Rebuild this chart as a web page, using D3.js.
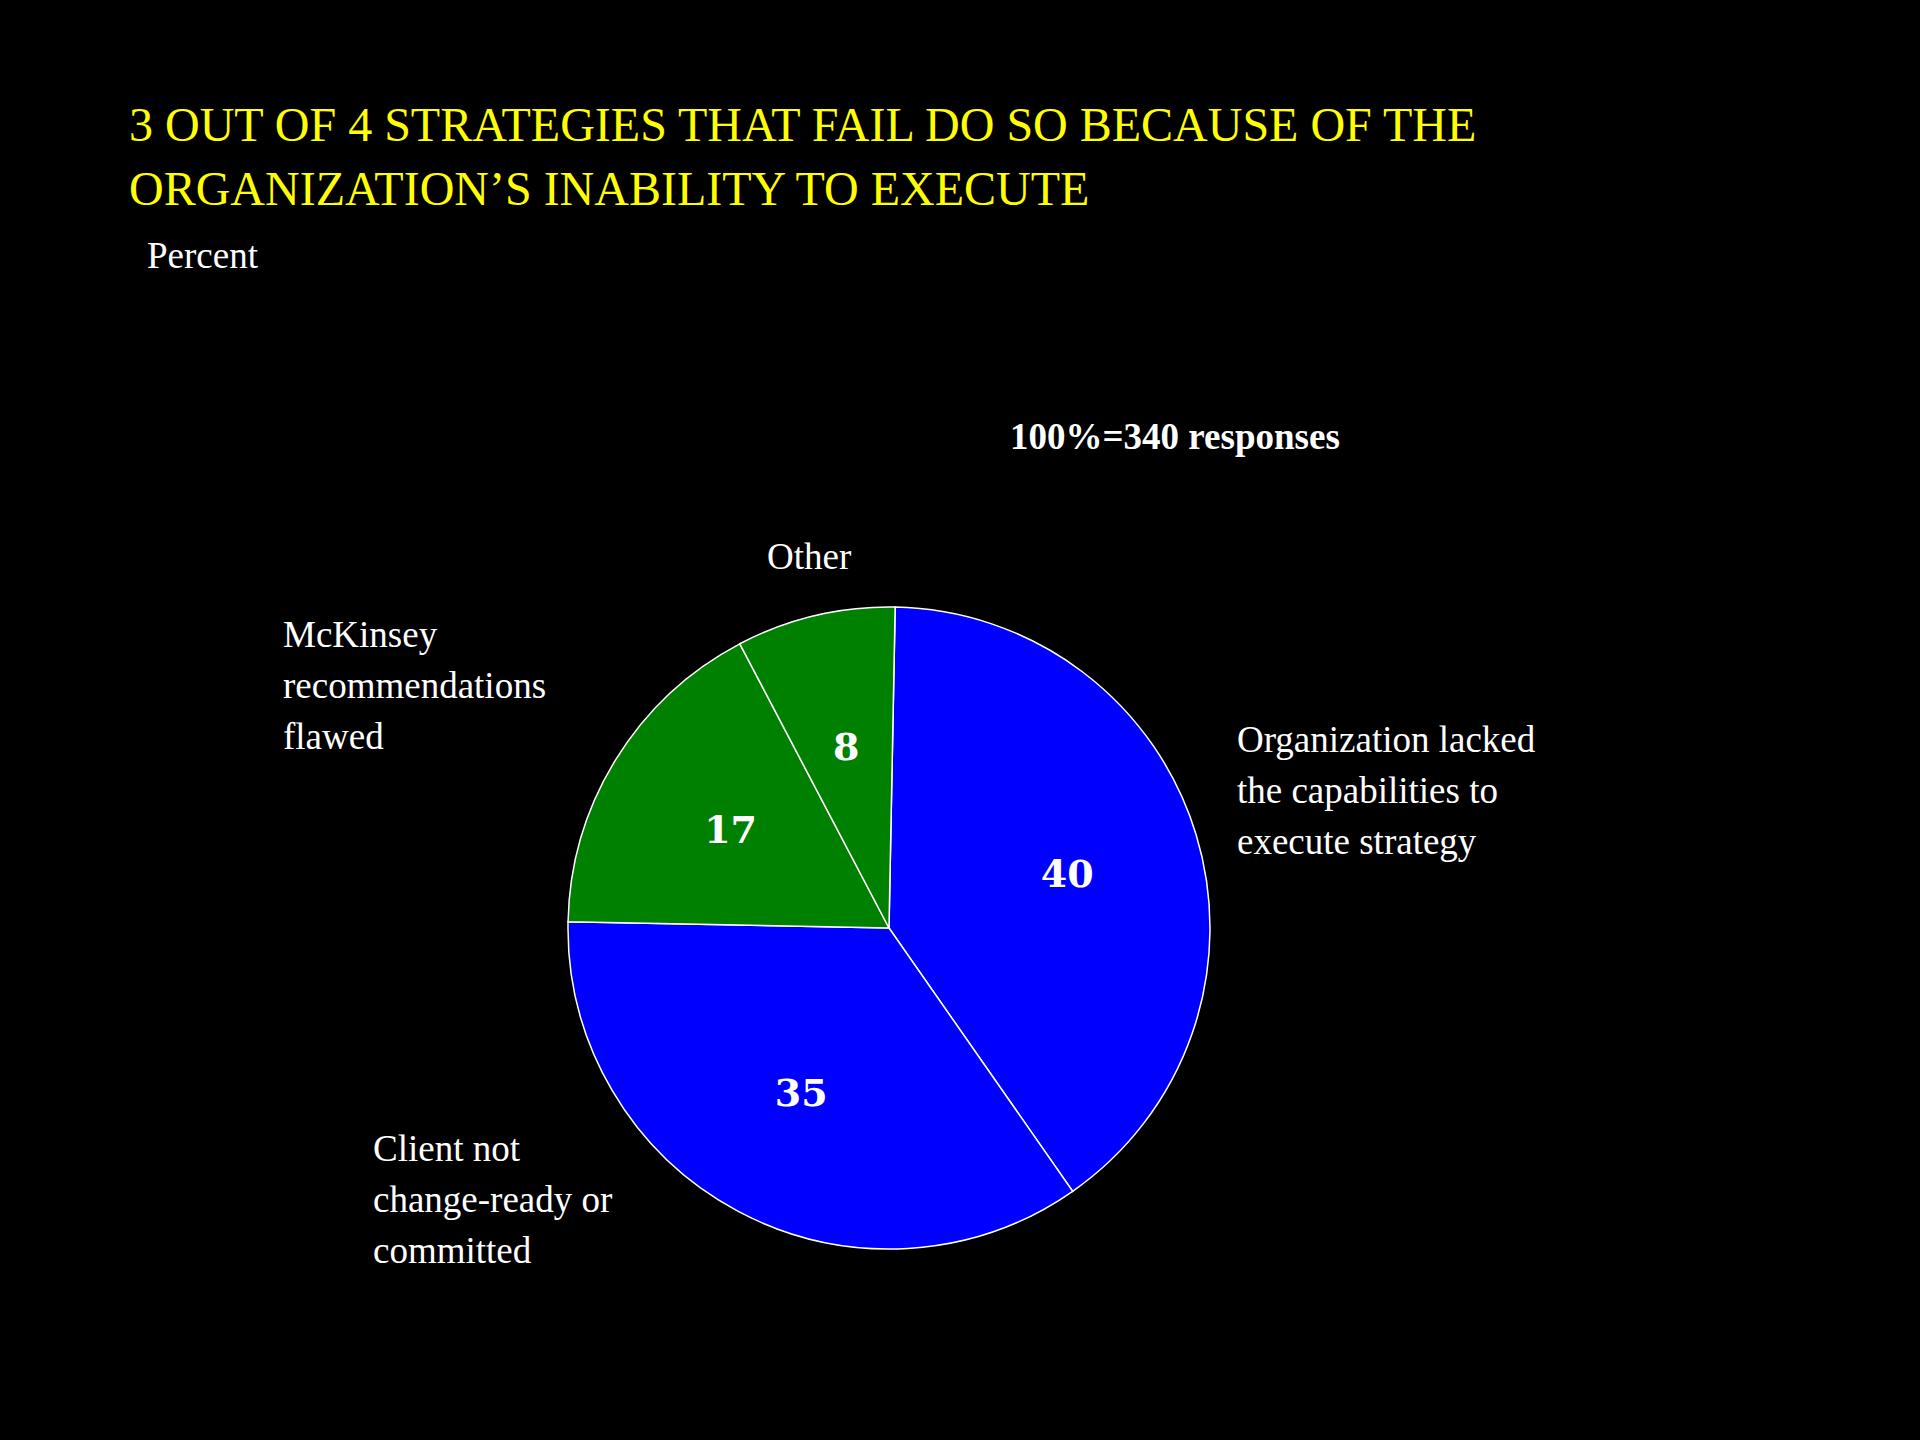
<!DOCTYPE html>
<html><head><meta charset="utf-8">
<script src="https://cdn.jsdelivr.net/npm/d3@7"></script>
<style>body{margin:0;background:#000}</style>
</head><body><svg id="c" width="1920" height="1440"></svg>
<script>
var labels = ["Organization lacked|the capabilities to|execute strategy", "Client not|change-ready or|committed", "McKinsey|recommendations|flawed", "Other"];
var values = [40, 35, 17, 8];
var colors = ["#0000ff", "#0000ff", "#008000", "#008000"];
var labelPos = [[1237, 752], [373, 1161], [283, 647], [767, 569]];

var svg = d3.select("#c");
svg.append("rect").attr("width", 1920).attr("height", 1440).attr("fill", "#000");

svg.selectAll(".title")
    .data(["3 OUT OF 4 STRATEGIES THAT FAIL DO SO BECAUSE OF THE", "ORGANIZATION\u2019S INABILITY TO EXECUTE"])
  .enter().append("text")
    .attr("x", 129).attr("y", function(d, i) { return 141 + i * 64; })
    .attr("fill", "#ffff00").style("font", "48px 'Liberation Serif'")
    .text(function(d) { return d; });

svg.append("text").attr("x", 147).attr("y", 268).attr("fill", "#fff")
    .style("font", "37px 'Liberation Serif'").text("Percent");
svg.append("text").attr("x", 1010).attr("y", 449).attr("fill", "#fff")
    .style("font", "bold 37px 'Liberation Serif'").text("100%=340 responses");

var cx = 889, cy = 928, r = 321;
var start = 1.1 * Math.PI / 180;
var pie = d3.pie().sort(null).startAngle(start).endAngle(start + 2 * Math.PI);
var arc = d3.arc().innerRadius(0).outerRadius(r);
var inner = d3.arc().innerRadius(r * 0.58).outerRadius(r * 0.58);
var g = svg.append("g").attr("transform", "translate(" + cx + "," + cy + ")");
var arcs = pie(values);

g.selectAll("path").data(arcs).enter().append("path")
    .attr("d", arc).attr("fill", function(d, i) { return colors[i]; })
    .attr("stroke", "#fff").attr("stroke-width", 1.5);

g.selectAll(".val").data(arcs).enter().append("text")
    .attr("transform", function(d) { return "translate(" + inner.centroid(d) + ")"; })
    .attr("text-anchor", "middle").attr("dy", "0.35em").attr("fill", "#fff")
    .style("font", "bold 38px 'DejaVu Serif'")
    .text(function(d) { return d.data; });

labels.forEach(function(l, i) {
  var t = svg.append("text").attr("fill", "#fff").style("font", "37px 'Liberation Serif'");
  l.split("|").forEach(function(s, j) {
    t.append("tspan").attr("x", labelPos[i][0]).attr("y", labelPos[i][1] + j * 51).text(s);
  });
});
</script></body></html>
